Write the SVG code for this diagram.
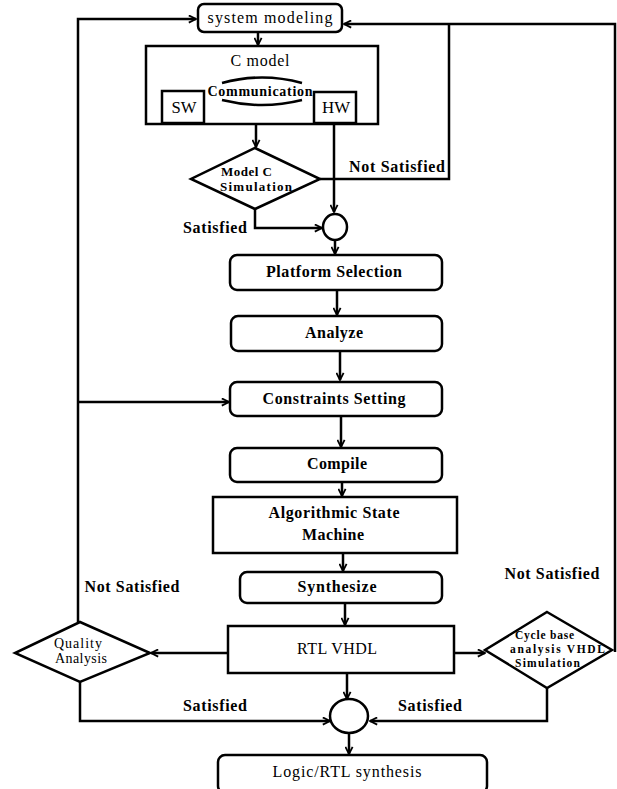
<svg xmlns="http://www.w3.org/2000/svg" width="617" height="789" viewBox="0 0 617 789">
<style>
.box{fill:#fff;stroke:#000;stroke-width:2.5}
.ln{fill:none;stroke:#000;stroke-width:2.5}
.t{font-family:"Liberation Serif","DejaVu Serif",serif;font-size:16px;fill:#000;text-anchor:middle}
.b{font-weight:bold}
.s{font-size:13px;font-weight:bold;text-anchor:start}
.c{font-size:11.5px}
</style>
<defs>
<marker id="ah" viewBox="0 0 10 10" refX="9" refY="5" markerWidth="9" markerHeight="9" markerUnits="userSpaceOnUse" orient="auto">
<path d="M1,1 L9,5 L1,9" fill="none" stroke="#000" stroke-width="2"/>
</marker>
</defs>
<rect width="617" height="789" fill="#fff"/>
<g id="connectors">
<polyline class="ln" points="78,622 78,19 196,19" marker-end="url(#ah)"/>
<polyline class="ln" points="615,652 615,24 344,24" marker-end="url(#ah)"/>
<line class="ln" x1="258" y1="32" x2="258" y2="45" marker-end="url(#ah)"/>
<line class="ln" x1="256" y1="124" x2="256" y2="147" marker-end="url(#ah)"/>
<line class="ln" x1="334" y1="124" x2="334" y2="212" marker-end="url(#ah)"/>
<polyline class="ln" points="320,179 449,179 449,24"/>
<polyline class="ln" points="255,209 255,228 322,228" marker-end="url(#ah)"/>
<line class="ln" x1="335" y1="240" x2="335" y2="254" marker-end="url(#ah)"/>
<line class="ln" x1="337" y1="290" x2="337" y2="315" marker-end="url(#ah)"/>
<line class="ln" x1="340" y1="351" x2="340" y2="380" marker-end="url(#ah)"/>
<line class="ln" x1="78" y1="402" x2="229" y2="402" marker-end="url(#ah)"/>
<line class="ln" x1="341" y1="416" x2="341" y2="447" marker-end="url(#ah)"/>
<line class="ln" x1="342" y1="482" x2="342" y2="496" marker-end="url(#ah)"/>
<line class="ln" x1="343" y1="553" x2="343" y2="571" marker-end="url(#ah)"/>
<line class="ln" x1="345" y1="603" x2="345" y2="625" marker-end="url(#ah)"/>
<line class="ln" x1="228" y1="653" x2="151" y2="653" marker-end="url(#ah)"/>
<line class="ln" x1="454" y1="653" x2="485" y2="653" marker-end="url(#ah)"/>
<line class="ln" x1="347" y1="673" x2="347" y2="699" marker-end="url(#ah)"/>
<polyline class="ln" points="80,682 80,721 330,721" marker-end="url(#ah)"/>
<polyline class="ln" points="547,688 547,721 370,721" marker-end="url(#ah)"/>
<line class="ln" x1="349" y1="733" x2="349" y2="754" marker-end="url(#ah)"/>
</g>
<g id="system-modeling">
<rect class="box" x="198" y="4" width="144" height="28" rx="6"/>
<text class="t" x="270" y="23" textLength="125" lengthAdjust="spacing">system modeling</text>
</g>
<g id="c-model">
<rect class="box" x="146" y="46" width="232" height="78"/>
<text class="t" x="260" y="66" textLength="59" lengthAdjust="spacing">C model</text>
<path class="ln" d="M222,83 Q262,72 302,83" stroke-width="2"/>
<path class="ln" d="M222,100 Q262,110 302,100" stroke-width="2"/>
<text class="t b" x="260" y="96" style="font-size:14px" textLength="105" lengthAdjust="spacing">Communication</text>
</g>
<g id="sw">
<rect class="box" x="162" y="91" width="42" height="32"/>
<text class="t" x="184" y="113" textLength="25" lengthAdjust="spacingAndGlyphs">SW</text>
</g>
<g id="hw">
<rect class="box" x="314" y="92" width="42" height="31"/>
<text class="t" x="336" y="113" textLength="28" lengthAdjust="spacingAndGlyphs">HW</text>
</g>
<g id="model-c-simulation">
<polygon class="box" points="255,148 320,179 255,209 191,179"/>
<text class="t s" x="221" y="176" textLength="51" lengthAdjust="spacing">Model C</text>
<text class="t s" x="220" y="191" textLength="72" lengthAdjust="spacing">Simulation</text>
</g>
<g id="join1">
<ellipse class="box" cx="335" cy="227" rx="12" ry="13"/>
</g>
<g id="platform-selection">
<rect class="box" x="230" y="255" width="212" height="35" rx="7"/>
<text class="t b" x="334" y="277" textLength="136" lengthAdjust="spacing">Platform Selection</text>
</g>
<g id="analyze">
<rect class="box" x="231" y="316" width="211" height="35" rx="7"/>
<text class="t b" x="334" y="338" textLength="58" lengthAdjust="spacing">Analyze</text>
</g>
<g id="constraints-setting">
<rect class="box" x="230" y="382" width="212" height="34" rx="7"/>
<text class="t b" x="334" y="404" textLength="143" lengthAdjust="spacing">Constraints Setting</text>
</g>
<g id="compile">
<rect class="box" x="230" y="448" width="212" height="34" rx="7"/>
<text class="t b" x="337" y="469" textLength="60" lengthAdjust="spacing">Compile</text>
</g>
<g id="asm">
<rect class="box" x="213" y="497" width="244" height="56"/>
<text class="t b" x="334" y="518" textLength="131" lengthAdjust="spacing">Algorithmic State</text>
<text class="t b" x="333" y="540" textLength="62" lengthAdjust="spacing">Machine</text>
</g>
<g id="synthesize">
<rect class="box" x="240" y="572" width="202" height="31" rx="7"/>
<text class="t b" x="337" y="592" textLength="79" lengthAdjust="spacing">Synthesize</text>
</g>
<g id="rtl-vhdl">
<rect class="box" x="228" y="626" width="226" height="47"/>
<text class="t" x="337" y="654" textLength="80" lengthAdjust="spacing">RTL VHDL</text>
</g>
<g id="quality-analysis">
<polygon class="box" points="80,622 150,653 80,682 15,653"/>
<text class="t" x="54" y="648" style="text-anchor:start;font-size:14px" textLength="48" lengthAdjust="spacing">Quality</text>
<text class="t" x="55" y="663" style="text-anchor:start;font-size:14px" textLength="52" lengthAdjust="spacing">Analysis</text>
</g>
<g id="cycle-base">
<polygon class="box" points="547,612 612,650 547,688 485,650"/>
<text class="t s c" x="515" y="639" textLength="59" lengthAdjust="spacing">Cycle base</text>
<text class="t s c" x="510" y="653" textLength="95" lengthAdjust="spacing">analysis VHDL</text>
<text class="t s c" x="515" y="667" textLength="65" lengthAdjust="spacing">Simulation</text>
</g>
<g id="join2">
<ellipse class="box" cx="349" cy="716" rx="19" ry="17"/>
</g>
<g id="logic-rtl-synthesis">
<rect class="box" x="218" y="755" width="269" height="38" rx="7"/>
<text class="t" x="347" y="777" textLength="149" lengthAdjust="spacing">Logic/RTL synthesis</text>
</g>
<g id="labels">
<text class="t b" x="215" y="233" textLength="64" lengthAdjust="spacing">Satisfied</text>
<text class="t b" x="397" y="172" textLength="96" lengthAdjust="spacing">Not Satisfied</text>
<text class="t b" x="132" y="592" textLength="95" lengthAdjust="spacing">Not Satisfied</text>
<text class="t b" x="552" y="579" textLength="95" lengthAdjust="spacing">Not Satisfied</text>
<text class="t b" x="215" y="711" textLength="64" lengthAdjust="spacing">Satisfied</text>
<text class="t b" x="430" y="711" textLength="64" lengthAdjust="spacing">Satisfied</text>
</g>
</svg>
